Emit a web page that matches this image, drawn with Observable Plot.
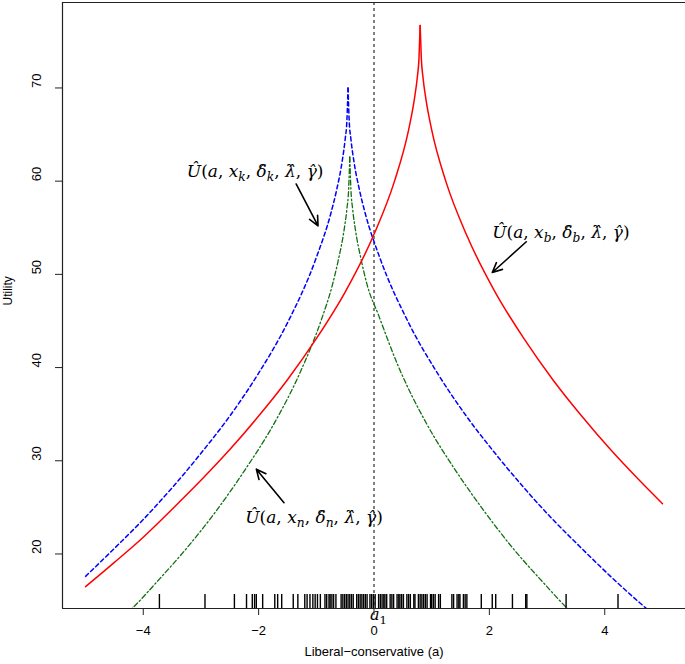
<!DOCTYPE html>
<html>
<head>
<meta charset="utf-8">
<script src="https://cdn.jsdelivr.net/npm/d3@7"></script>
<script src="https://cdn.jsdelivr.net/npm/@observablehq/plot@0.6"></script>
<style>
  html, body { margin: 0; padding: 0; background: white; }
  #chart { width: 685px; height: 664px; }
</style>
</head>
<body>
<div id="chart"></div>
<script>
// ---- data ----
const xTicks = [-4, -2, 0, 2, 4];
const yTicks = [20, 30, 40, 50, 60, 70];
const xDomain = [-5.4, 5.4];
const yDomain = [14.15, 79.17];

// red (solid): U(a, x_b, ...)
const redX = [-5, -4.5, -4, -3.5, -3, -2.5, -2, -1.5, -1, -0.5, 0, 0.35, 0.6, 0.7, 0.75, 0.78, 0.8, 0.82, 0.85, 0.9, 1.0, 1.25, 1.6, 2.1, 2.6, 3.1, 3.6, 4.1, 4.6, 5];
const redY = [16.5, 19.1, 21.8, 24.8, 27.9, 31.2, 34.8, 38.7, 43.1, 48.1, 54.3, 59.9, 65.5, 68.8, 71.1, 73.2, 76.7, 73.2, 71.1, 68.8, 65.5, 59.9, 54.3, 48.1, 43.1, 38.7, 34.8, 31.2, 27.9, 25.4];

// blue (dashed): U(a, x_k, ...)
const blueX = [-5, -4.5, -4, -3.5, -3, -2.5, -2, -1.5, -1, -0.75, -0.65, -0.55, -0.5, -0.47, -0.45, -0.43, -0.4, -0.35, -0.25, -0.15, 0.1, 0.6, 1.1, 1.6, 2.1, 2.6, 3.1, 3.6, 4.1, 4.6, 4.75];
const blueY = [17.6, 20.6, 23.7, 27.1, 30.8, 34.8, 39.4, 44.8, 51.8, 56.5, 59.0, 62.2, 64.5, 66.5, 70.0, 66.5, 64.5, 62.2, 59.0, 56.5, 51.8, 44.8, 39.4, 34.8, 30.8, 27.1, 23.7, 20.6, 17.6, 14.8, 14.0];

// green (dot-dash): U(a, x_n, ...)
const greenX = [-4.3, -4.2, -3.75, -3.25, -2.75, -2.25, -1.75, -1.25, -0.92, -0.72, -0.62, -0.52, -0.47, -0.44, -0.42, -0.4, -0.37, -0.32, -0.22, -0.12, 0.08, 0.41, 0.91, 1.41, 1.91, 2.41, 2.91, 3.36, 3.46];
const greenY = [13.5, 14.1, 17.1, 20.6, 24.5, 28.9, 33.8, 39.9, 45.0, 48.9, 51.5, 54.7, 57.0, 59.1, 62.6, 59.1, 57.0, 54.7, 51.5, 48.9, 45.6, 40.3, 34.0, 29.0, 24.6, 20.6, 17.1, 14.1, 13.5];

// rug of observed positions
const rug = [-3.72, -2.93, -2.42, -2.21, -2.11, -2.07, -2.04, -1.93, -1.72, -1.67, -1.60, -1.40, -1.32, -1.20, -1.16, -1.11, -1.06, -1.02, -0.98, -0.93, -0.85, -0.82, -0.78, -0.76, -0.73, -0.70, -0.66, -0.57, -0.54, -0.51, -0.48, -0.45, -0.42, -0.39, -0.36, -0.30, -0.27, -0.24, -0.21, -0.18, -0.15, -0.12, -0.07, -0.04, -0.01, 0.02, 0.08, 0.11, 0.14, 0.17, 0.19, 0.22, 0.28, 0.31, 0.34, 0.40, 0.43, 0.45, 0.48, 0.51, 0.57, 0.60, 0.63, 0.69, 0.71, 0.77, 0.80, 0.83, 0.86, 0.89, 0.92, 0.98, 1.00, 1.03, 1.06, 1.12, 1.15, 1.35, 1.38, 1.44, 1.47, 1.49, 1.55, 1.58, 1.61, 1.86, 2.05, 2.11, 2.40, 2.63, 2.65, 3.33, 4.23];

// annotations (data coordinates)
const labelKeys = ["LBL_K", "LBL_B", "LBL_N"];
const labelX = [-2.06, 3.24, -1.04];
const labelY = [61.0, 54.5, 23.9];
const arrowX1 = [-1.35, 2.64, -1.56];
const arrowY1 = [59.7, 53.5, 25.5];
const arrowX2 = [-0.97, 2.05, -2.04];
const arrowY2 = [55.2, 50.2, 29.1];
const xLabel = "Liberal\u2212conservative (a)";
const yLabel = "Utility";

// ---- build tables ----
function branches(xs, ys, name) {
  let iMax = 0;
  ys.forEach((v, i) => { if (v > ys[iMax]) iMax = i; });
  const rows = [];
  for (let i = 0; i <= iMax; i++) rows.push({x: xs[i], y: ys[i], z: name + "L"});
  for (let i = iMax; i < xs.length; i++) rows.push({x: xs[i], y: ys[i], z: name + "R"});
  return rows;
}
const red = branches(redX, redY, "r");
const blue = branches(blueX, blueY, "b");
const green = branches(greenX, greenY, "g");
const labels = labelKeys.map((k, i) => ({k, x: labelX[i], y: labelY[i]}));
const arrows = arrowX1.map((_, i) => ({x1: arrowX1[i], y1: arrowY1[i], x2: arrowX2[i], y2: arrowY2[i]}));

const sans = "Liberation Sans, Arial, Helvetica, sans-serif";
const serif = "DejaVu Serif, serif";

const chart = Plot.plot({
  width: 685,
  height: 664,
  marginLeft: 62,
  marginRight: 0,
  marginTop: 2,
  marginBottom: 56,
  style: {fontFamily: sans, fontSize: "13px", background: "white", color: "black", overflow: "visible"},
  x: {domain: xDomain},
  y: {domain: yDomain},
  marks: [
    Plot.ruleX([0], {stroke: "black", strokeWidth: 1, strokeDasharray: "3,3"}),
    Plot.line(green, {x: "x", y: "y", z: "z", stroke: "#107010", strokeWidth: 1.3, strokeDasharray: "5,2.5,1.5,2.5", curve: "monotone-x", clip: true}),
    Plot.line(blue, {x: "x", y: "y", z: "z", stroke: "#0000ff", strokeWidth: 1.5, strokeDasharray: "4,3", curve: "monotone-x", clip: true}),
    Plot.line(red, {x: "x", y: "y", z: "z", stroke: "#ff0000", strokeWidth: 1.5, curve: "monotone-x", clip: true}),
    Plot.ruleX(rug, {x: d => d, y1: yDomain[0], y2: yDomain[0] + 1.5, stroke: "black", strokeWidth: 1.4}),
    Plot.arrow(arrows, {x1: "x1", y1: "y1", x2: "x2", y2: "y2", stroke: "black", strokeWidth: 1.6, headLength: 10, headAngle: 50}),
    Plot.text(labels, {x: "x", y: "y", text: "k", fontFamily: serif, fontSize: 17, fill: "black"}),
    Plot.text(["LBL_A1"], {x: () => 0, y: () => yDomain[0], text: d => d, fontFamily: serif, fontSize: 16, textAnchor: "start", dx: -4, dy: 6, fill: "black"}),
    // frame (top, left, bottom)
    Plot.ruleY([yDomain[1], yDomain[0]], {stroke: "#222", strokeWidth: 1.2}),
    Plot.ruleX([xDomain[0]], {stroke: "#222", strokeWidth: 1.2}),
    Plot.axisX({ticks: xTicks, tickSize: 7, tickPadding: 10, fontSize: 13, label: null, stroke: "#222"}),
    Plot.axisY({ticks: yTicks, tickSize: 7, tickFormat: () => "", label: null, stroke: "#222"}),
    Plot.text(yTicks, {y: d => d, text: d => String(d), frameAnchor: "left", dx: -26, rotate: -90, fontSize: 13, fill: "black"}),
    Plot.text([yLabel], {text: d => d, frameAnchor: "left", dx: -54, rotate: -90, fontSize: 12, fill: "black"}),
    Plot.text([xLabel], {text: d => d, frameAnchor: "bottom", dy: 47, fontSize: 13, fill: "black"})
  ]
});

// ---- typeset the math labels as real text with tspans ----
const hat = "\u0302";
function mathSegs(sub) {
  return [
    ["U" + hat, 1, 0], ["(", 0, 0], ["a", 1, 0], [", ", 0, 0], ["x", 1, 0], [sub, 1, 1], [", ", 0, 0],
    ["\u03B4" + hat, 1, 0], [sub, 1, 1], [", ", 0, 0], ["\u03BB" + hat, 1, 0], [", ", 0, 0], ["\u03B3" + hat, 1, 0], [")", 0, 0]
  ];
}
const segMap = {
  LBL_K: mathSegs("k"),
  LBL_B: mathSegs("b"),
  LBL_N: mathSegs("n"),
  LBL_A1: [["a", 1, 0], ["1", 0, 1]]
};
d3.select(chart).selectAll("text").each(function () {
  const key = this.textContent;
  const segs = segMap[key];
  if (!segs) return;
  const t = d3.select(this);
  t.text("");
  let shift = 0;
  for (const [s, it, sub] of segs) {
    const ts = t.append("tspan").text(s);
    if (it) ts.attr("font-style", "italic");
    const target = sub ? 4 : 0;
    if (target !== shift) { ts.attr("dy", target - shift); shift = target; }
    if (sub) ts.attr("font-size", "0.72em");
  }
});

document.getElementById("chart").appendChild(chart);
</script>
</body>
</html>
